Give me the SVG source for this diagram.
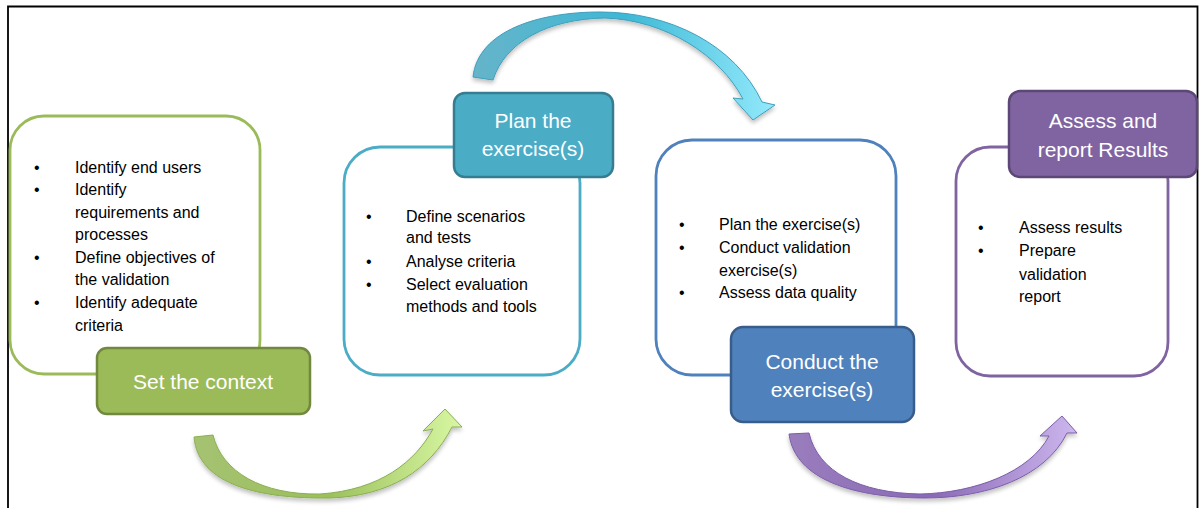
<svg xmlns="http://www.w3.org/2000/svg" width="1199" height="508" viewBox="0 0 1199 508">
<style>
.body{font-family:"Liberation Sans",Arial,sans-serif;font-size:16px;fill:#000}
.lbl{font-family:"Liberation Sans",Arial,sans-serif;font-size:21px;fill:#fff;text-anchor:middle}
.box{fill:#fff;stroke-width:2.8}
.tag{stroke-width:2.5}
</style>
<defs>
<linearGradient id="gG" x1="0" y1="0" x2="1" y2="0"><stop offset="0" stop-color="#a5c272"/><stop offset="0.5" stop-color="#9bc05a"/><stop offset="1" stop-color="#d9f7a4"/></linearGradient>
<linearGradient id="gT" x1="0" y1="0" x2="1" y2="0"><stop offset="0" stop-color="#66b4c9"/><stop offset="0.5" stop-color="#3db8d6"/><stop offset="1" stop-color="#93e9fb"/></linearGradient>
<linearGradient id="gP" x1="0" y1="0" x2="1" y2="0"><stop offset="0" stop-color="#9a7dbd"/><stop offset="0.5" stop-color="#8a69b6"/><stop offset="1" stop-color="#cdb7ee"/></linearGradient>
<filter id="sh" x="-10%" y="-20%" width="120%" height="150%"><feGaussianBlur in="SourceAlpha" stdDeviation="2"/><feOffset dy="3"/><feComponentTransfer><feFuncA type="linear" slope="0.25"/></feComponentTransfer><feMerge><feMergeNode/><feMergeNode in="SourceGraphic"/></feMerge></filter>
</defs>
<rect width="1199" height="508" fill="#fff"/>
<path d="M8,508 V6.5 H1197.5 V508" fill="none" stroke="#000" stroke-width="1.8"/>

<g id="connectors">
<path filter="url(#sh)" d="M194,437 C198,485 260,499 330,498 C390,496 430,470 452,427 L462,427 L445,409 L423,431 L433,429 C415,462 380,490 320,494 C262,495 222,472 213,435 Z" fill="url(#gG)" stroke="#8aae55" stroke-width="1"/>
<path filter="url(#sh)" d="M473,77 C478,30 540,12 600,12 C670,12 735,45 762,102 L775,105 L753,120 L733,98 L743,99 C720,55 665,20 605,18 C548,19 505,42 493,80 Z" fill="url(#gT)" stroke="#3f9fba" stroke-width="1"/>
<path filter="url(#sh)" d="M789,434 C795,480 855,498 925,498 C985,498 1045,478 1067,433 L1077,433 L1062,416 L1040,436 L1049,436 C1030,472 975,493 920,494 C860,493 818,472 809,433 Z" fill="url(#gP)" stroke="#7c5ea8" stroke-width="1"/>
</g>

<g id="node1">
<rect class="box" x="10" y="116" width="250" height="258" rx="34" stroke="#9bbb59"/>
<g class="body">
<text x="34" y="173">•</text><text x="75" y="173">Identify end users</text>
<text x="34" y="195">•</text><text x="75" y="195">Identify</text>
<text x="75" y="218">requirements and</text>
<text x="75" y="240">processes</text>
<text x="34" y="263">•</text><text x="75" y="263">Define objectives of</text>
<text x="75" y="285">the validation</text>
<text x="34" y="308">•</text><text x="75" y="308">Identify adequate</text>
<text x="75" y="331">criteria</text>
</g>
<rect class="tag" x="97" y="348" width="213" height="66" rx="10" fill="#9bbb59" stroke="#71893f"/>
<text class="lbl" x="203" y="389">Set the context</text>
</g>

<g id="node2">
<rect class="box" x="344" y="147" width="236" height="228" rx="36" stroke="#4bacc6"/>
<g class="body">
<text x="366" y="222">•</text><text x="406" y="222">Define scenarios</text>
<text x="406" y="243">and tests</text>
<text x="366" y="267">•</text><text x="406" y="267">Analyse criteria</text>
<text x="366" y="290">•</text><text x="406" y="290">Select evaluation</text>
<text x="406" y="312">methods and tools</text>
</g>
<rect class="tag" x="454" y="93" width="159" height="84" rx="11" fill="#4bacc6" stroke="#357d91"/>
<text class="lbl" x="533" y="128">Plan the</text>
<text class="lbl" x="533" y="156">exercise(s)</text>
</g>

<g id="node3">
<rect class="box" x="656" y="140" width="240" height="235" rx="36" stroke="#4f81bd"/>
<g class="body">
<text x="679" y="230">•</text><text x="719" y="230">Plan the exercise(s)</text>
<text x="679" y="253">•</text><text x="719" y="253">Conduct validation</text>
<text x="719" y="276">exercise(s)</text>
<text x="679" y="298">•</text><text x="719" y="298">Assess data quality</text>
</g>
<rect class="tag" x="731" y="327" width="183" height="95" rx="12" fill="#4f81bd" stroke="#385d8a"/>
<text class="lbl" x="822" y="369">Conduct the</text>
<text class="lbl" x="822" y="397">exercise(s)</text>
</g>

<g id="node4">
<rect class="box" x="956" y="147" width="212" height="229" rx="34" stroke="#8064a2"/>
<g class="body">
<text x="978" y="233">•</text><text x="1019" y="233">Assess results</text>
<text x="978" y="256">•</text><text x="1019" y="256">Prepare</text>
<text x="1019" y="280">validation</text>
<text x="1019" y="302">report</text>
</g>
<rect class="tag" x="1009" y="91" width="188" height="86" rx="11" fill="#8064a2" stroke="#5c4776"/>
<text class="lbl" x="1103" y="128">Assess and</text>
<text class="lbl" x="1103" y="157">report Results</text>
</g>
</svg>
